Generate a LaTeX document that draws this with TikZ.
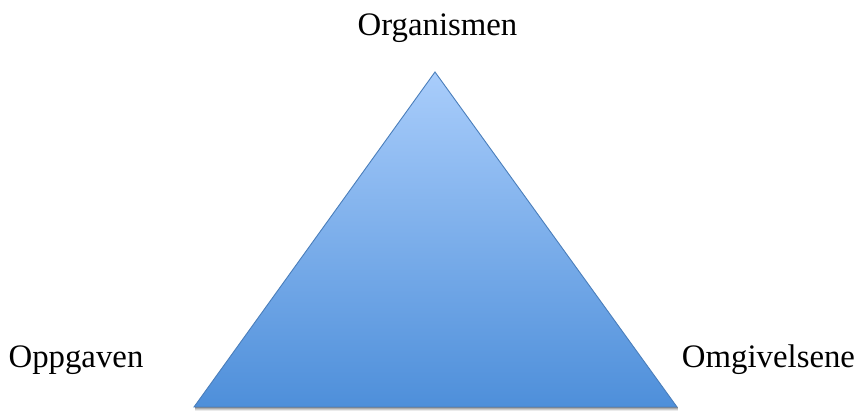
\documentclass[tikz,border=0pt]{standalone}
\usepackage{fontspec}
\setmainfont{Liberation Serif}
\usetikzlibrary{calc}
\definecolor{topblue}{HTML}{A9CDFB}
\definecolor{botblue}{HTML}{4E8FDA}
\definecolor{edgeblue}{HTML}{4A7EBB}
\tikzset{
  lbl/.style={anchor=base, inner sep=0pt, font=\fontsize{32.8}{36}\selectfont},
  tri/.style={draw=edgeblue, line width=0.9pt, top color=topblue, bottom color=botblue, line join=miter}
}
\begin{document}
\begin{tikzpicture}[x=1pt,y=1pt]
\useasboundingbox (0,0) rectangle (857,415);
\coordinate (A) at (435,343);
\coordinate (B) at (194,8);
\coordinate (C) at (677,8);
% soft shadow
\foreach \d/\o in {4/0.08,3/0.12,2/0.16,1/0.2}{
  \fill[black, opacity=\o] ($(B)+(1,-\d)$) -- ($(C)+(1,-\d)$) -- ($(C)+(1,0)$) -- ($(B)+(1,0)$) -- cycle;
}
\draw[tri] (A) -- (B) -- (C) -- cycle;
\node[lbl] (org) at (437.5,379) {Organismen};
\node[lbl] (opp) at (76,47) {Oppgaven};
\node[lbl] (omg) at (768.5,47) {Omgivelsene};
\end{tikzpicture}
\end{document}
